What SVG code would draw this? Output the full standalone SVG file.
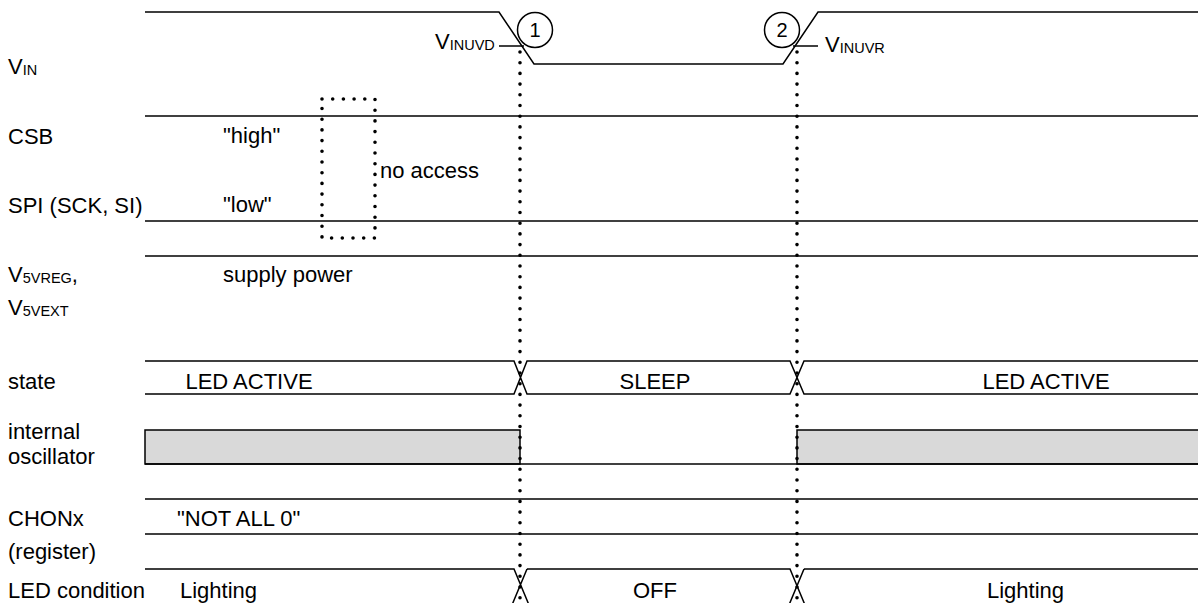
<svg xmlns="http://www.w3.org/2000/svg" width="1198" height="603" viewBox="0 0 1198 603">
<style>
text{font-family:"Liberation Sans",Arial,sans-serif;font-size:22px;fill:#000}
.sub{font-size:14.5px}
.ln{stroke:#000;stroke-width:1.5;fill:none}
.dot{stroke:#000;stroke-width:3.6;stroke-linecap:round;stroke-dasharray:0 10.7;fill:none}
.osc{fill:#d9d9d9;stroke:#000;stroke-width:1.5}
.c{text-anchor:middle}
</style>
<rect width="1198" height="603" fill="#fff"/>
<g id="labels">
<text x="8" y="74">V<tspan class="sub" dy="1">IN</tspan></text>
<text x="8" y="144">CSB</text>
<text x="8" y="213">SPI (SCK, SI)</text>
<text x="8" y="282">V<tspan class="sub" dy="1">5VREG</tspan><tspan dy="-1">,</tspan></text>
<text x="8" y="315">V<tspan class="sub" dy="1">5VEXT</tspan></text>
<text x="8" y="389">state</text>
<text x="8" y="439">internal</text>
<text x="8" y="464">oscillator</text>
<text x="8" y="526">CHONx</text>
<text x="8" y="559">(register)</text>
<text x="8" y="598">LED condition</text>
</g>
<g id="vin">
<polyline class="ln" points="145,12 499,12 534,64 783,64 818,12 1198,12"/>
<line class="ln" x1="499" y1="46" x2="524" y2="46"/>
<line class="ln" x1="793" y1="46" x2="818" y2="46"/>
<text x="435" y="49">V<tspan class="sub" dy="1">INUVD</tspan></text>
<text x="825" y="52">V<tspan class="sub" dy="1">INUVR</tspan></text>
</g>
<g id="mark1">
<circle class="ln" cx="535" cy="30" r="17.5"/>
<text class="c" x="535" y="37" style="font-size:20px">1</text>
</g>
<g id="mark2">
<circle class="ln" cx="782" cy="30" r="17.5"/>
<text class="c" x="782" y="37" style="font-size:20px">2</text>
</g>
<g id="csb-spi">
<line class="ln" x1="145" y1="116" x2="1198" y2="116"/>
<line class="ln" x1="145" y1="221" x2="1198" y2="221"/>
<text x="223" y="143">"high"</text>
<text x="223" y="212">"low"</text>
</g>
<g id="noaccess">
<rect class="dot" x="322" y="99" width="53" height="139"/>
<text x="380" y="178">no access</text>
</g>
<g id="v5v">
<line class="ln" x1="145" y1="256" x2="1198" y2="256"/>
<text x="223" y="282">supply power</text>
</g>
<g id="state">
<path class="ln" d="M145,361H514L527,394H790L804,361H1198M145,394H514L527,361H790L804,394H1198"/>
<text class="c" x="249" y="389">LED ACTIVE</text>
<text class="c" x="655" y="389">SLEEP</text>
<text class="c" x="1046" y="389">LED ACTIVE</text>
</g>
<g id="oscillator">
<rect class="osc" x="145" y="430" width="375" height="34"/>
<rect class="osc" x="797" y="430" width="405" height="34"/>
<line class="ln" x1="145" y1="464" x2="1198" y2="464"/>
</g>
<g id="chonx">
<line class="ln" x1="145" y1="499" x2="1198" y2="499"/>
<line class="ln" x1="145" y1="534" x2="1198" y2="534"/>
<text x="177" y="526">"NOT ALL 0"</text>
</g>
<g id="led">
<path class="ln" d="M145,569H514L529,605M527,569L512,605M527,569H790L805,605M804,569L789,605M804,569H1198"/>
<text x="180" y="598">Lighting</text>
<text class="c" x="655" y="598">OFF</text>
<text x="987" y="598">Lighting</text>
</g>
<g id="connectors">
<line class="dot" x1="520" y1="52" x2="520" y2="603"/>
<line class="dot" x1="797" y1="52" x2="797" y2="603"/>
</g>
</svg>
